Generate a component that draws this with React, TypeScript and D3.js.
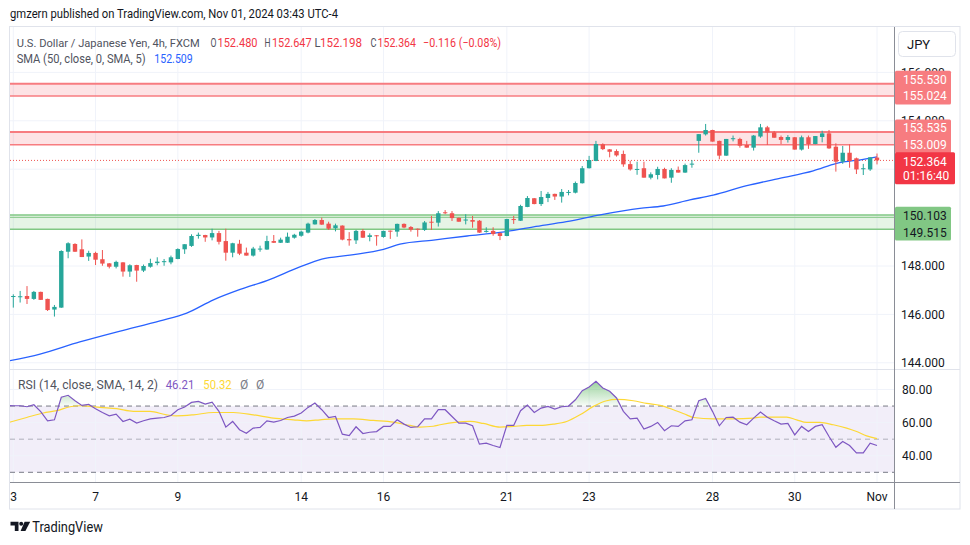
import React from 'react';
import * as d3 from 'd3';

// ---------- data ----------
const tickDays = ['3', '7', '9', '14', '16', '21', '23', '28', '30', 'Nov'];
const tickIdx = [0, 12, 24, 42, 54, 72, 84, 102, 114, 126];

const opens = [146.73, 146.72, 146.76, 146.64, 146.93, 146.64, 146.20, 146.28, 148.59, 148.91,
  148.69, 148.39, 148.54, 148.28, 148.11, 147.97, 148.15, 147.77, 148.04, 147.81,
  147.97, 148.12, 148.18, 148.15, 148.29, 148.69, 148.83, 149.24, 149.28, 149.18,
  149.36, 149.03, 148.55, 148.92, 148.55, 148.43, 148.70, 148.68, 149.03, 148.96,
  148.96, 149.17, 149.25, 149.38, 149.72, 149.90, 149.75, 149.56, 149.67, 149.11,
  149.06, 149.45, 149.20, 149.27, 149.20, 149.46, 149.42, 149.74, 149.61, 149.54,
  149.49, 149.83, 149.79, 150.22, 150.18, 149.99, 149.90, 149.90, 149.87, 149.43,
  149.45, 149.36, 149.24, 149.94, 149.87, 150.44, 150.80, 150.56, 150.81, 150.98,
  150.87, 151.04, 151.03, 151.42, 152.04, 152.34, 153.03, 152.82, 152.75, 152.63,
  152.21, 151.99, 152.04, 151.65, 151.76, 152.01, 151.65, 151.97, 151.86, 152.20,
  153.17, 153.44, 153.62, 153.17, 152.56, 153.26, 153.25, 153.00, 152.89, 153.35,
  153.73, 153.52, 153.33, 153.21, 153.32, 152.81, 153.32, 153.04, 153.33, 153.48,
  152.93, 152.31, 152.68, 152.45, 152.01, 151.99, 152.48];
const highs = [146.83, 146.97, 147.17, 146.97, 146.94, 146.65, 146.39, 148.65, 148.98, 148.94,
  149.10, 148.63, 148.59, 148.66, 148.12, 148.22, 148.16, 148.07, 148.05, 148.06,
  148.30, 148.36, 148.29, 148.43, 148.73, 148.90, 149.31, 149.38, 149.29, 149.54,
  149.45, 149.54, 148.96, 149.08, 148.76, 148.79, 148.84, 149.25, 149.28, 149.17,
  149.38, 149.33, 149.46, 149.79, 149.94, 150.00, 149.83, 149.75, 149.68, 149.40,
  149.49, 149.53, 149.35, 149.28, 149.46, 149.47, 149.75, 149.76, 149.65, 149.55,
  149.86, 150.07, 150.27, 150.31, 150.27, 150.00, 150.14, 150.07, 149.90, 149.60,
  149.60, 149.39, 149.95, 150.07, 150.53, 150.89, 150.81, 151.10, 151.06, 150.99,
  151.18, 151.14, 151.49, 152.13, 152.55, 153.17, 153.07, 152.83, 152.82, 152.77,
  152.35, 152.31, 152.31, 151.87, 152.10, 152.06, 152.04, 152.11, 152.23, 152.38,
  153.45, 153.87, 153.63, 153.18, 153.25, 153.39, 153.30, 153.17, 153.41, 153.87,
  153.79, 153.58, 153.39, 153.41, 153.33, 153.39, 153.39, 153.37, 153.59, 153.62,
  153.07, 152.96, 153.03, 152.48, 152.22, 152.49, 152.647];
const lows = [146.28, 146.49, 146.43, 146.60, 146.60, 146.14, 145.91, 146.27, 148.32, 148.58,
  148.37, 148.21, 148.04, 148.01, 147.90, 147.90, 147.56, 147.55, 147.35, 147.75,
  147.93, 148.03, 148.01, 148.07, 148.28, 148.50, 148.79, 149.13, 149.00, 149.06,
  148.89, 148.22, 148.36, 148.45, 148.43, 148.39, 148.59, 148.67, 148.95, 148.95,
  148.95, 149.13, 149.21, 149.35, 149.71, 149.70, 149.49, 149.43, 149.06, 148.84,
  148.91, 149.16, 149.02, 148.84, 149.17, 149.12, 149.21, 149.56, 149.42, 149.21,
  149.45, 149.49, 149.63, 150.14, 149.86, 149.83, 149.72, 149.58, 149.37, 149.38,
  149.25, 149.07, 149.23, 149.74, 149.86, 150.43, 150.55, 150.48, 150.64, 150.73,
  150.62, 150.92, 151.00, 151.41, 152.03, 152.33, 152.79, 152.49, 152.52, 152.10,
  151.94, 151.77, 151.65, 151.58, 151.58, 151.62, 151.44, 151.86, 151.85, 152.06,
  152.68, 153.39, 153.14, 152.41, 152.55, 153.15, 152.89, 152.89, 152.77, 153.30,
  153.00, 153.30, 153.04, 153.10, 152.81, 152.77, 152.84, 153.03, 153.11, 152.84,
  151.90, 152.22, 152.06, 151.80, 151.76, 151.93, 152.198];
const closes = [146.76, 146.75, 146.64, 146.93, 146.60, 146.18, 146.31, 148.62, 148.94, 148.59,
  148.37, 148.54, 148.26, 148.10, 147.97, 148.17, 147.77, 148.03, 147.81, 148.00,
  148.12, 148.18, 148.20, 148.36, 148.70, 148.90, 149.24, 149.29, 149.18, 149.36,
  149.00, 148.55, 148.94, 148.51, 148.43, 148.72, 148.72, 149.03, 148.96, 149.09,
  149.21, 149.29, 149.42, 149.75, 149.90, 149.71, 149.54, 149.68, 149.09, 149.06,
  149.45, 149.17, 149.27, 149.24, 149.45, 149.43, 149.74, 149.59, 149.50, 149.50,
  149.80, 149.80, 150.18, 150.19, 149.98, 149.83, 149.92, 149.83, 149.38, 149.45,
  149.32, 149.24, 149.94, 149.92, 150.48, 150.81, 150.56, 150.85, 150.98, 150.87,
  151.06, 151.06, 151.43, 152.04, 152.38, 153.04, 152.83, 152.72, 152.57, 152.20,
  151.99, 152.01, 151.65, 151.79, 152.01, 151.62, 151.97, 151.86, 152.17, 152.23,
  153.45, 153.62, 153.14, 152.56, 153.25, 153.28, 152.97, 152.89, 153.39, 153.73,
  153.52, 153.30, 153.21, 153.33, 152.81, 153.32, 153.04, 153.37, 153.48, 152.86,
  152.31, 152.68, 152.34, 151.99, 152.04, 152.49, 152.364];

// SMA(50) read at candle positions
const smaIdx = [-0.8, 3.9, 9.7, 15.6, 21.4, 25.3, 29.2, 33.1, 37, 41.8, 45, 49.1, 54, 56.4, 61.3,
  66.2, 71, 75.9, 80.7, 85.6, 91.4, 94.8, 98.7, 102.1, 107, 111.8, 116.7, 120.1, 124, 126];
const smaVal = [144.07, 144.36, 144.86, 145.31, 145.73, 146.05, 146.60, 147.03, 147.40, 147.96,
  148.28, 148.45, 148.69, 148.90, 149.07, 149.24, 149.39, 149.62, 149.83, 150.11, 150.38,
  150.48, 150.73, 150.93, 151.32, 151.62, 151.93, 152.24, 152.41, 152.509];

// RSI(14), one value per candle, starting at candle index -1
const RSI_START = -1;
const rsiVals = [70.4,
  70.2, 70.2, 69.6, 70.8, 66.7, 61.1, 61.7, 75.3, 76.5, 73.2,
  70.4, 71.0, 68.4, 66.1, 64.1, 65.1, 60.7, 62.1, 59.7, 61.1,
  62.3, 62.7, 63.1, 64.3, 67.8, 69.4, 72.2, 72.8, 71.2, 72.4,
  66.8, 57.3, 60.7, 55.7, 53.6, 56.7, 57.1, 61.1, 60.3, 61.3,
  63.1, 63.9, 65.8, 69.2, 71.8, 67.8, 63.1, 63.7, 53.0, 52.2,
  57.5, 53.4, 54.2, 54.6, 57.7, 57.7, 61.7, 59.1, 57.1, 57.5,
  62.3, 62.3, 67.8, 67.8, 63.7, 59.7, 59.7, 58.1, 47.0, 47.6,
  46.2, 45.0, 58.3, 58.3, 67.2, 70.6, 66.1, 68.8, 69.8, 68.2,
  69.6, 70.0, 73.8, 79.3, 81.5, 84.9, 80.9, 78.9, 74.9, 66.8,
  62.3, 62.7, 56.1, 57.7, 60.1, 55.1, 58.1, 57.7, 61.1, 61.7,
  73.2, 74.6, 66.8, 58.1, 63.1, 63.3, 60.3, 58.7, 62.7, 66.4,
  63.3, 61.1, 59.1, 59.5, 52.6, 57.7, 54.6, 57.7, 58.7, 51.6,
  45.1, 48.6, 46.2, 41.7, 41.7, 47.6, 46.21];

// RSI-based SMA(14)
const rsiMaIdx = [-0.5, 1.95, 4.38, 6.33, 8.27, 9.73, 10.7, 12.65, 15.08, 17.51,
  19.94, 22.37, 23.83, 26.26, 29.18, 32.1, 35.02, 37.93, 40.85, 42.8,
  44.74, 46.69, 49.6, 52.52, 55.44, 57.87, 59.33, 61.27, 62.25, 64.68,
  66.63, 68.57, 71.0, 72.95, 74.89, 76.84, 78.78, 80.73, 82.67, 84.62,
  86.56, 88.02, 90.45, 92.4, 94.34, 96.29, 98.23, 99.21, 102.12, 105.04,
  107.96, 108.93, 112.82, 114.28, 115.74, 117.68, 119.63, 121.57, 123.03, 124.49, 126];
const rsiMaVal = [60.3, 63.1, 65.8, 67.2, 69.6, 70.2, 70.0, 69.2, 68.4, 66.8,
  66.8, 64.7, 64.1, 64.7, 66.1, 66.1, 64.7, 62.7, 61.7, 61.1,
  61.7, 62.3, 62.3, 61.3, 60.3, 58.3, 57.3, 57.8, 58.7, 60.3,
  60.7, 59.5, 57.3, 57.7, 58.3, 58.3, 59.1, 60.7, 64.7, 69.8,
  73.2, 74.0, 73.2, 71.6, 70.4, 67.8, 64.7, 63.1, 62.3, 62.3,
  62.7, 63.3, 63.3, 61.7, 60.1, 60.1, 58.7, 56.7, 54.6, 52.0, 50.32];

// price ticks (150 and 152 labels are fully covered by price labels in the reference)
const priceTicks = [144, 146, 148, 150, 152, 154, 156];
const priceTickLabels = [144, 146, 148, 154, 156];
const rsiTicks = [40, 60, 80];
const rsiBands = [70, 50, 30];

const redZones = [[155.024, 155.530], [153.009, 153.535]];
const greenZone = [149.515, 150.103];
const lastClose = 152.364;
const countdown = '01:16:40';
const smaLast = '152.509';
const rsiLast = '46.21';
const rsiMaLast = '50.32';

// ---------- colours ----------
const UP = '#26a69a';
const DOWN = '#ef5350';
const TXT = '#131722';
const GRAY = '#50535e';
const GRID = '#f0f3fa';
const FONT = "Roboto, 'Noto Sans', sans-serif";

export default function App() {
  const L = 10, R = 894, MT = 27, MB = 369, RT = 370, RB = 482, AB = 509, AR = 960;
  const x = d3.scaleLinear().domain([0, 126]).range([13.3, 877]);
  const y = d3.scaleLinear().domain([148, 154]).range([266, 120.8]);
  const yR = d3.scaleLinear().domain([30, 80]).range([472.3, 389.5]);
  const bw = 4.4;

  const smaPath = d3.line<number>()
    .x((_, k) => x(smaIdx[k])).y((v) => y(v)).curve(d3.curveMonotoneX)(smaVal) || '';
  const rsiPath = d3.line<number>()
    .x((_, k) => x(k + RSI_START)).y((v) => yR(v))(rsiVals) || '';
  const rsiArea = d3.area<number>()
    .x((_, k) => x(k + RSI_START)).y0(yR(70)).y1((v) => yR(v))(rsiVals) || '';
  const rsiMaPath = d3.line<number>()
    .x((_, k) => x(rsiMaIdx[k])).y((v) => yR(v)).curve(d3.curveMonotoneX)(rsiMaVal) || '';

  const red1 = redZones[0], red2 = redZones[1];
  const lblH = 16.7;
  const boxX = 895, boxW = 56;

  const priceLabel = (txt: string, cy: number, fill: string) => (
    <text x={903} y={cy + 4.3} fontSize={12} fill={fill} fontFamily={FONT}>{txt}</text>
  );

  const p1lo = y(red1[0]), p1hi = p1lo - lblH;
  const p2lo = y(red2[0]), p2hi = p2lo - lblH;
  const gHi = y(greenZone[1]) + 1, gLo = gHi + lblH;
  const cY = y(lastClose) + 1;

  const ohlcKeys = ['O', 'H', 'L', 'C'];
  const ohlcVals = [opens[126], highs[126], lows[126], closes[126]];
  const ohlcKeyX = [210.5, 264.5, 314.5, 370.5];
  const ohlcValX = [217.5, 272, 320, 377.5];
  const ohlcValW = [40, 39.5, 42, 38.5];

  return (
    <div style={{ position: 'absolute', left: 0, top: 0 }}>
      <svg width={970} height={545} style={{ display: 'block', background: '#fff' }}>
        <defs>
          <clipPath id="mainClip"><rect x={L} y={MT} width={R - L} height={MB - MT} /></clipPath>
          <clipPath id="rsiClip"><rect x={L} y={RT} width={R - L} height={RB - RT} /></clipPath>
          <clipPath id="obClip"><rect x={L} y={RT} width={R - L} height={yR(70) - RT} /></clipPath>
          <linearGradient id="obGrad" gradientUnits="userSpaceOnUse" x1={0} y1={yR(86)} x2={0} y2={yR(70)}>
            <stop offset="0%" stopColor="rgba(76,175,80,0.6)" />
            <stop offset="100%" stopColor="rgba(76,175,80,0.04)" />
          </linearGradient>
        </defs>

        {/* header */}
        <text x={10} y={18} fontSize={12.5} fill={TXT} fontFamily={FONT} textLength={328} lengthAdjust="spacingAndGlyphs">
          gmzern published on TradingView.com, Nov 01, 2024 03:43 UTC-4
        </text>

        {/* frame */}
        <rect x={9.5} y={26.5} width={AR - 9.5} height={AB - 26.5} fill="#fff" stroke="#e0e3eb" />

        {/* grid main */}
        <g clipPath="url(#mainClip)">
          {priceTicks.map((p) => (
            <line key={'hp' + p} x1={L} x2={R} y1={y(p)} y2={y(p)} stroke={GRID} />
          ))}
          {tickIdx.map((t) => (
            <line key={'vm' + t} x1={x(t)} x2={x(t)} y1={MT} y2={MB} stroke={GRID} />
          ))}
        </g>
        {/* grid rsi */}
        <g clipPath="url(#rsiClip)">
          <rect x={L} y={yR(70)} width={R - L} height={yR(30) - yR(70)} fill="rgba(126,87,194,0.1)" />
          {rsiTicks.map((v) => (
            <line key={'hr' + v} x1={L} x2={R} y1={yR(v)} y2={yR(v)} stroke={GRID} />
          ))}
          {tickIdx.map((t) => (
            <line key={'vr' + t} x1={x(t)} x2={x(t)} y1={RT} y2={RB} stroke={GRID} />
          ))}
          {rsiBands.map((v) => (
            <line key={'band' + v} x1={L} x2={R} y1={yR(v)} y2={yR(v)}
              stroke={v === 50 ? 'rgba(120,123,134,0.55)' : '#787b86'} strokeDasharray="5 4" />
          ))}
        </g>

        {/* zones */}
        <g clipPath="url(#mainClip)">
          {redZones.map((z, k) => (
            <g key={'rz' + k}>
              <rect x={L} y={y(z[1])} width={R - L} height={y(z[0]) - y(z[1])} fill="rgba(242,54,69,0.14)" />
              <line x1={L} x2={R} y1={y(z[1])} y2={y(z[1])} stroke="#f77c80" strokeWidth={2} />
              <line x1={L} x2={R} y1={y(z[0])} y2={y(z[0])} stroke="#f77c80" strokeWidth={1.5} />
            </g>
          ))}
          <rect x={L} y={y(greenZone[1])} width={R - L} height={y(greenZone[0]) - y(greenZone[1])} fill="rgba(76,175,80,0.14)" />
          <line x1={L} x2={R} y1={y(greenZone[1])} y2={y(greenZone[1])} stroke="#81c784" strokeWidth={1.5} />
          <line x1={L} x2={R} y1={y(greenZone[1]) + 2.2} y2={y(greenZone[1]) + 2.2} stroke="#81c784" strokeWidth={1} />
          <line x1={L} x2={R} y1={y(greenZone[0])} y2={y(greenZone[0])} stroke="#81c784" strokeWidth={1.5} />

          {/* close line */}
          <line x1={L} x2={R} y1={y(lastClose)} y2={y(lastClose)} stroke={DOWN} strokeDasharray="1 2" />

          {/* SMA */}
          <path d={smaPath} fill="none" stroke="#2962ff" strokeWidth={1.3} />

          {/* candles */}
          {opens.map((o, i) => {
            const c = closes[i];
            const col = c >= o ? UP : DOWN;
            const top = y(Math.max(o, c));
            const bh = Math.max(1, y(Math.min(o, c)) - top);
            return (
              <g key={'c' + i}>
                <line x1={x(i)} x2={x(i)} y1={y(highs[i])} y2={y(lows[i])} stroke={col} strokeWidth={1} />
                <rect x={x(i) - bw / 2} y={top} width={bw} height={bh} fill={col} />
              </g>
            );
          })}
        </g>

        {/* RSI lines */}
        <g clipPath="url(#obClip)">
          <path d={rsiArea} fill="url(#obGrad)" />
        </g>
        <g clipPath="url(#rsiClip)">
          <path d={rsiMaPath} fill="none" stroke="#fdd835" strokeWidth={1.2} />
          <path d={rsiPath} fill="none" stroke="#7e57c2" strokeWidth={1.2} />
        </g>

        {/* separators */}
        <line x1={L} x2={AR} y1={MB + 0.5} y2={MB + 0.5} stroke="#e0e3eb" />
        <line x1={L} x2={AR} y1={RB + 0.5} y2={RB + 0.5} stroke="#8a8d96" />
        <line x1={R + 0.5} x2={R + 0.5} y1={MT} y2={AB} stroke="#8a8d96" />

        {/* price axis ticks */}
        {priceTickLabels.map((p) => (
          <text key={'pt' + p} x={901} y={y(p) + 4.3} fontSize={12} fill={TXT} fontFamily={FONT}>
            {p.toFixed(3)}
          </text>
        ))}
        {rsiTicks.map((v) => (
          <text key={'rt' + v} x={902} y={yR(v) + 4.3} fontSize={12} fill={TXT} fontFamily={FONT}>
            {v.toFixed(2)}
          </text>
        ))}

        {/* price labels */}
        <rect x={boxX} y={p1hi - 8.5} width={boxW} height={p1lo - p1hi + 17} fill="#f77c80" rx={1.5} />
        {priceLabel(red1[1].toFixed(3), p1hi, '#fff')}
        {priceLabel(red1[0].toFixed(3), p1lo, '#fff')}
        <rect x={boxX} y={p2hi - 8.5} width={boxW} height={p2lo - p2hi + 17} fill="#f77c80" rx={1.5} />
        {priceLabel(red2[1].toFixed(3), p2hi, '#fff')}
        {priceLabel(red2[0].toFixed(3), p2lo, '#fff')}
        <rect x={boxX} y={cY - 9.2} width={boxW + 4} height={32} fill="#f23645" rx={1.5} />
        {priceLabel(lastClose.toFixed(3), cY, '#fff')}
        {priceLabel(countdown, cY + 14, '#fff')}
        <rect x={boxX} y={gHi - 9.3} width={boxW} height={gLo - gHi + 17} fill="#81c784" rx={1.5} />
        {priceLabel(greenZone[1].toFixed(3), gHi, TXT)}
        {priceLabel(greenZone[0].toFixed(3), gLo, TXT)}

        {/* currency button */}
        <rect x={898.5} y={31.5} width={57} height={25} rx={4} fill="#fff" stroke="#e0e3eb" />
        <text x={907} y={49} fontSize={13} fill={TXT} fontFamily={FONT}>JPY</text>

        {/* time axis */}
        <g>
          {tickDays.map((d, k) => (
            <text key={'td' + k} x={Math.max(x(tickIdx[k]), 13.5)} y={500.5} fontSize={12} fill={TXT}
              fontFamily={FONT} textAnchor="middle">{d}</text>
          ))}
        </g>

        {/* legend */}
        <g fontFamily={FONT} fontSize={12}>
          <text x={16.7} y={46.5} fill={GRAY} fontSize={11} textLength={183} lengthAdjust="spacingAndGlyphs">U.S. Dollar / Japanese Yen, 4h, FXCM</text>
          {ohlcKeys.map((k, j) => (
            <g key={'ohlc' + k}>
              <text x={ohlcKeyX[j]} y={46.5} fill={GRAY} textLength={6} lengthAdjust="spacingAndGlyphs">{k}</text>
              <text x={ohlcValX[j]} y={46.5} fill="#f23645" textLength={ohlcValW[j]} lengthAdjust="spacingAndGlyphs">
                {ohlcVals[j].toFixed(3)}
              </text>
            </g>
          ))}
          <text x={423} y={46.5} fill="#f23645" textLength={78} lengthAdjust="spacingAndGlyphs">−0.116 (−0.08%)</text>
          <text x={16.7} y={62.5} fill={GRAY} textLength={129} lengthAdjust="spacingAndGlyphs">SMA (50, close, 0, SMA, 5)</text>
          <text x={154.3} y={62.5} fill="#2962ff" textLength={38.4} lengthAdjust="spacingAndGlyphs">{smaLast}</text>
          <text x={18} y={388.7} fill={GRAY} textLength={140} lengthAdjust="spacingAndGlyphs">RSI (14, close, SMA, 14, 2)</text>
          <text x={165.7} y={388.7} fill="#7e57c2" textLength={28.6} lengthAdjust="spacingAndGlyphs">{rsiLast}</text>
          <text x={203.3} y={388.7} fill="#fdd835" textLength={28.4} lengthAdjust="spacingAndGlyphs">{rsiMaLast}</text>
          <text x={240} y={388.7} fill="#787b86">Ø</text>
          <text x={256} y={388.7} fill="#787b86">Ø</text>
        </g>

        {/* TradingView logo */}
        <g fill={TXT}>
          <path d="M10.5 521.8 H18.5 V531 H14.8 V525.4 H10.5 Z" />
          <circle cx={21.2} cy={523.8} r={2} />
          <path d="M24.6 521.8 H30.2 L25.4 531 H20.6 Z" />
        </g>
        <text x={32.3} y={531.5} fontSize={14.5} fill={TXT} fontFamily={FONT} textLength={70.5} lengthAdjust="spacingAndGlyphs">TradingView</text>
      </svg>
    </div>
  );
}
